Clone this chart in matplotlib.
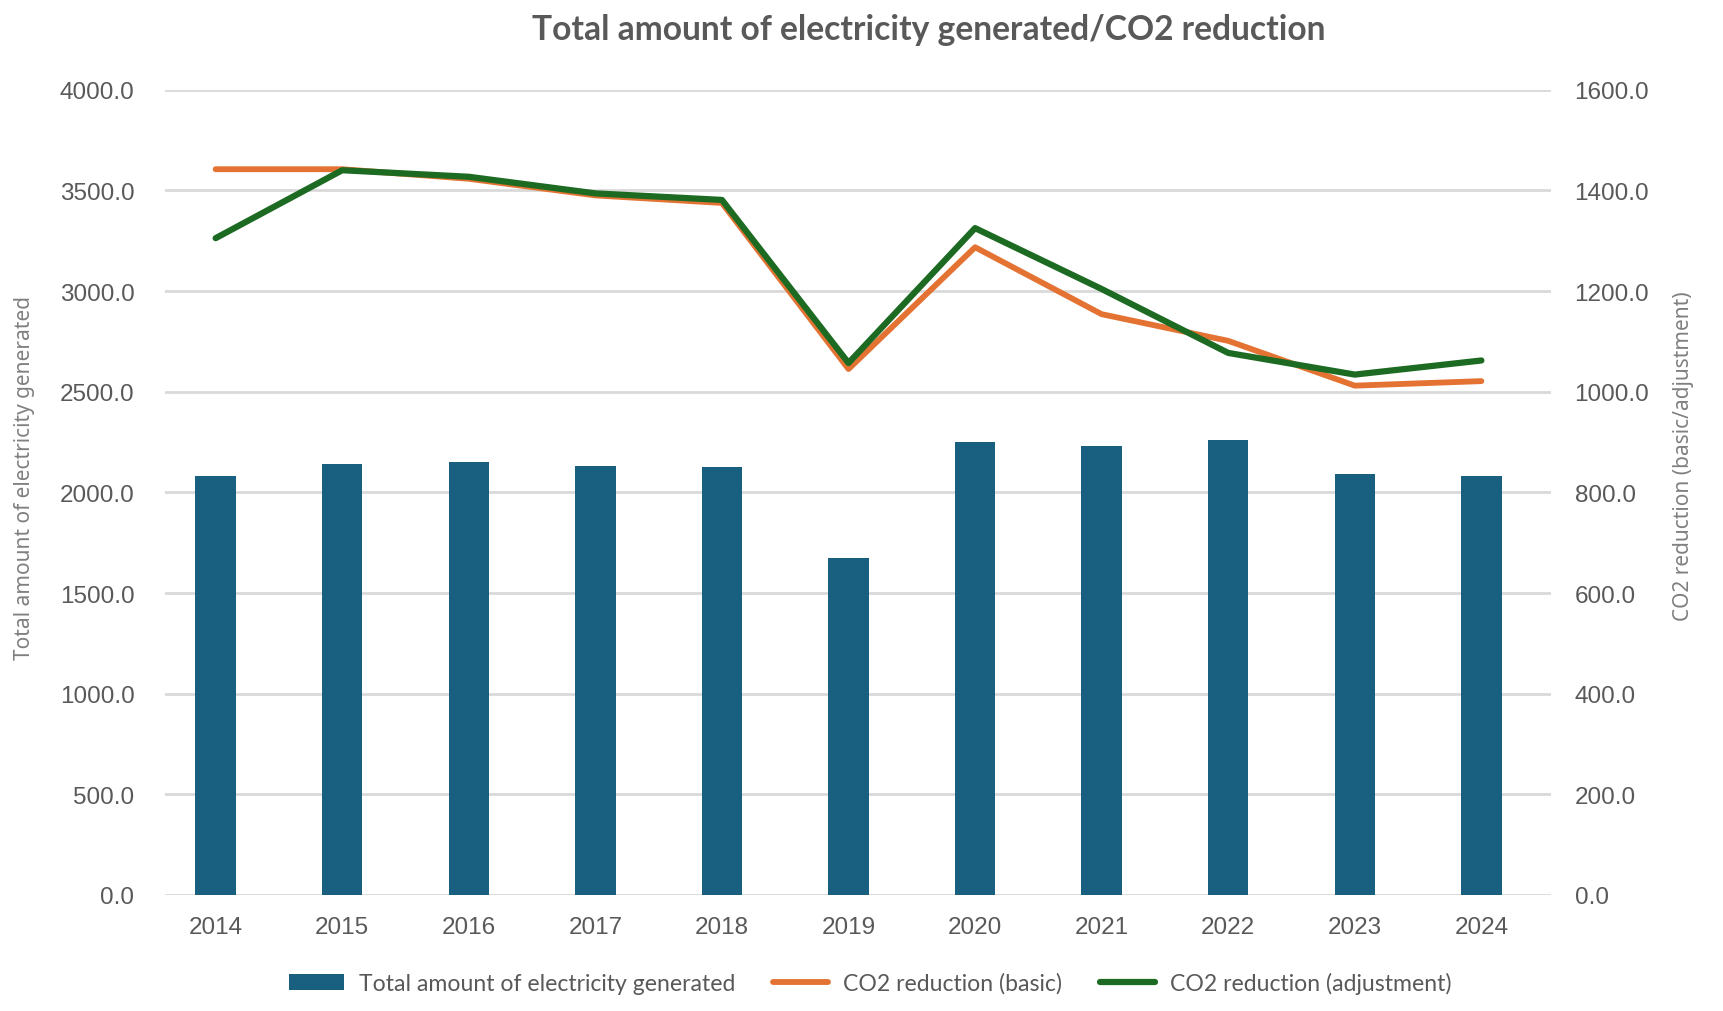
import matplotlib.pyplot as plt
import numpy as np

years = ["2014", "2015", "2016", "2017", "2018", "2019", "2020", "2021", "2022", "2023", "2024"]
electricity = [2083, 2139, 2151, 2132, 2126, 1675, 2249, 2232, 2262, 2091, 2081]
co2_basic = [1442, 1442, 1423, 1390, 1375, 1045, 1287, 1154, 1101, 1012, 1021]
co2_adjust = [1305, 1440, 1427, 1394, 1381, 1057, 1325, 1204, 1077, 1034, 1062]

BAR_COLOR = "#195f80"
ORANGE = "#e47333"
GREEN = "#1d6b23"
TEXT = "#595959"
LABEL = "#808080"
GRID = "#d9d9d9"

fig = plt.figure(figsize=(17.24, 10.12), dpi=100)
ax = fig.add_axes([165 / 1724, 1 - 896 / 1012, (1551 - 165) / 1724, (896 - 90.7) / 1012])
ax2 = ax.twinx()

x = np.arange(len(years))
bars = ax.bar(x, electricity, width=0.32, color=BAR_COLOR, zorder=2,
              label="Total amount of electricity generated")
l1, = ax2.plot(x, co2_basic, color=ORANGE, lw=4.2, solid_capstyle="round",
               label="CO2 reduction (basic)", zorder=3)
l2, = ax2.plot(x, co2_adjust, color=GREEN, lw=4.5, solid_capstyle="round",
               label="CO2 reduction (adjustment)", zorder=4)

ax.set_xlim(-0.4, 10.55)
ax.set_ylim(0, 4000)
ax2.set_ylim(0, 1600)
ax.set_yticks(np.arange(0, 4001, 500))
ax2.set_yticks(np.arange(0, 1601, 200))
ax.set_yticklabels([f"{v:.1f}" for v in np.arange(0, 4001, 500)])
ax2.set_yticklabels([f"{v:.1f}" for v in np.arange(0, 1601, 200)])
ax.set_xticks(x)
ax.set_xticklabels(years)

ax.grid(axis="y", color=GRID, lw=2, zorder=0)
ax.set_axisbelow(True)
for a in (ax, ax2):
    for s in a.spines.values():
        s.set_visible(False)
    a.tick_params(length=0, labelsize=17.5, labelcolor=TEXT)
    for lab in a.get_xticklabels() + a.get_yticklabels():
        lab.set_fontfamily("Liberation Sans")
# pads in points (px * 0.72)
ax.tick_params(axis="y", pad=22)
ax2.tick_params(axis="y", pad=17)
ax.tick_params(axis="x", pad=15)

fig.text(929 / 1724, 1 - 30 / 1012, "Total amount of electricity generated/CO2 reduction",
         ha="center", va="center", fontsize=24.2, fontweight="bold", color=TEXT, family="Lato")
fig.text(25 / 1724, 1 - 478 / 1012, "Total amount of electricity generated",
         rotation=90, ha="center", va="center", fontsize=15, color=LABEL, family="Noto Sans")
fig.text(1684 / 1724, 1 - 456 / 1012, "CO2 reduction (basic/adjustment)",
         rotation=90, ha="center", va="center", fontsize=15, color=LABEL, family="Noto Sans")

leg = fig.legend(handles=[bars, l1, l2], loc="center", bbox_to_anchor=(870 / 1724, 1 - 984 / 1012),
                 ncol=3, frameon=False, handlelength=2.4, handleheight=0.7,
                 handletextpad=0.64, columnspacing=1.64, prop={"family": "Lato", "size": 16.6})
for t in leg.get_texts():
    t.set_color(TEXT)

fig.savefig("out.png", dpi=100)
